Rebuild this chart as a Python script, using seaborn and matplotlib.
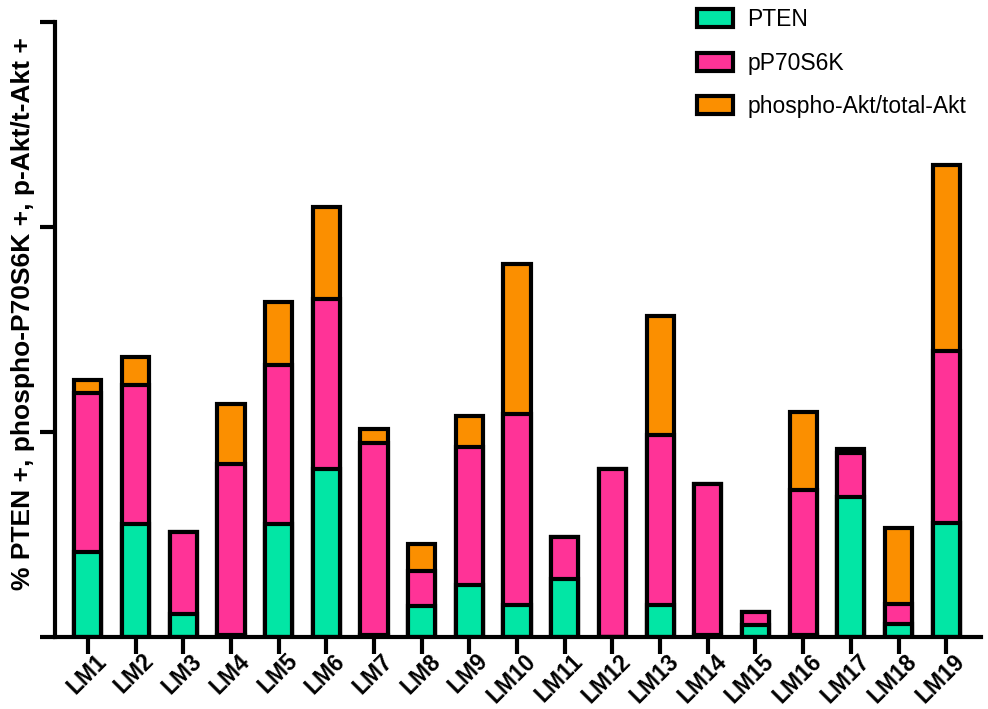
import numpy as np
import pandas as pd
import matplotlib
matplotlib.use("Agg")
import matplotlib.pyplot as plt
import matplotlib.transforms as mtransforms
import seaborn as sns
from matplotlib.patches import Patch

sns.set_theme(style="ticks")
plt.rcParams["font.family"] = ["Liberation Sans", "DejaVu Sans"]
plt.rcParams["text.color"] = "black"
plt.rcParams["axes.labelcolor"] = "black"
plt.rcParams["xtick.color"] = "black"
plt.rcParams["ytick.color"] = "black"

# values (percent positive)
samples = ["LM1", "LM2", "LM3", "LM4", "LM5", "LM6", "LM7", "LM8", "LM9", "LM10",
           "LM11", "LM12", "LM13", "LM14", "LM15", "LM16", "LM17", "LM18", "LM19"]
pten = [20.7, 27.6, 5.7, 0.5, 27.6, 40.9, 0.5, 7.6, 12.6, 7.7,
        14.2, 0.0, 7.7, 0.5, 2.9, 0.5, 34.2, 3.2, 27.7]
pp70s6k = [38.7, 33.8, 20.0, 41.8, 38.8, 41.5, 46.9, 8.6, 33.7, 46.6,
           10.1, 40.9, 41.6, 36.7, 3.3, 35.3, 10.6, 4.8, 42.1]
pakt = [3.4, 6.9, 0.0, 14.5, 15.4, 22.4, 3.4, 6.5, 7.5, 36.6,
        0.0, 0.0, 29.1, 0.0, 0.0, 19.0, 1.0, 18.7, 45.2]

colors = {"PTEN": "#02E6A5", "pP70S6K": "#FF3397", "phospho-Akt/total-Akt": "#FB8F00"}

df = pd.DataFrame({"sample": samples, "PTEN": pten, "pP70S6K": pp70s6k,
                   "pAkt": pakt})
df["cum2"] = df["PTEN"] + df["pP70S6K"]
df["total"] = df["cum2"] + df["pAkt"]

fig = plt.figure(figsize=(9.88, 7.09), dpi=100)
ax = fig.add_axes([55 / 988, 72 / 709, 926 / 988, 615 / 709])

# stacked look: draw cumulative bars from tallest to shortest
for col, c in [("total", colors["phospho-Akt/total-Akt"]),
               ("cum2", colors["pP70S6K"]),
               ("PTEN", colors["PTEN"])]:
    sns.barplot(data=df, x="sample", y=col, color=c, width=0.57,
                edgecolor="black", linewidth=3, saturation=1, ax=ax)

ax.set_xlim(-0.69, 18.73)
ax.set_ylim(0, 150)
ax.set_yticks([0, 50, 100, 150])
ax.set_yticklabels([])
ax.set_xlabel("")
ax.set_ylabel("% PTEN +, phospho-P70S6K +, p-Akt/t-Akt +", fontsize=19,
              fontweight="bold")
ax.yaxis.set_label_coords(-0.022, 0.526)

for s in ["top", "right"]:
    ax.spines[s].set_visible(False)
for s in ["left", "bottom"]:
    ax.spines[s].set_linewidth(3)
    ax.spines[s].set_color("black")
ax.spines["left"].set_bounds(0, 150)
ax.tick_params(axis="y", length=11, width=3, color="black")
ax.tick_params(axis="x", length=12, width=3, color="black", pad=0,
               labelsize=16.5, labelrotation=45)

# rotated labels, nudged up and to the right of each tick
shift = mtransforms.ScaledTranslation(5 / 72, 3 / 72, fig.dpi_scale_trans)
for lab in ax.get_xticklabels():
    lab.set_ha("right")
    lab.set_va("top")
    lab.set_rotation_mode("anchor")
    lab.set_fontweight("bold")
    lab.set_transform(lab.get_transform() + shift)

handles = [Patch(facecolor=c, edgecolor="black", linewidth=3, label=k)
           for k, c in colors.items()]
fig.legend(handles=handles, loc="upper left", bbox_to_anchor=(697 / 988, 1 - 8 / 709),
           frameon=False, fontsize=16.5, handlelength=1.55, handleheight=0.85,
           labelspacing=0.9, handletextpad=0.65, borderpad=0, borderaxespad=0)

fig.savefig("out.png", dpi=100)
